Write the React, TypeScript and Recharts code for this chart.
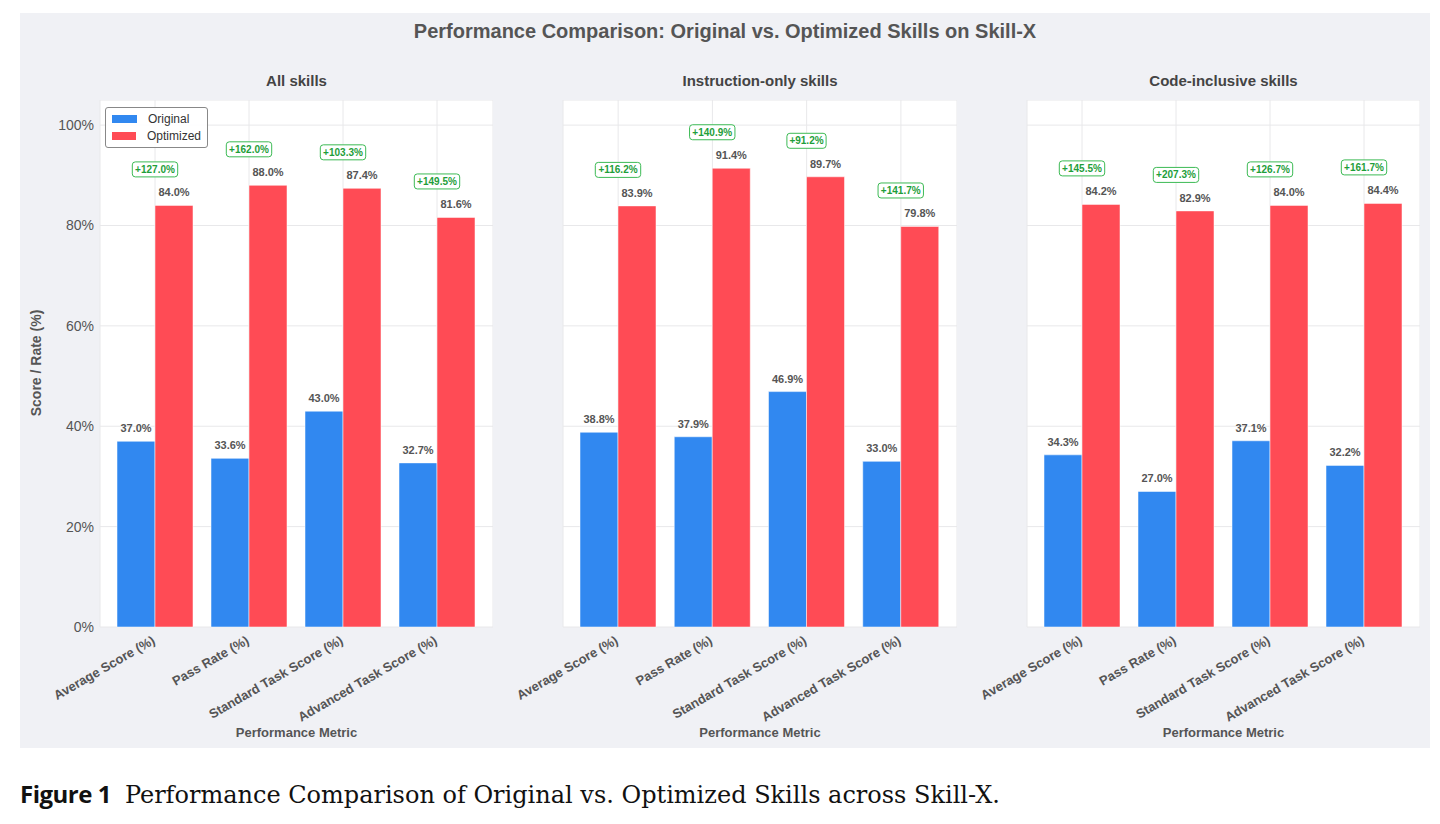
import { BarChart, Bar, XAxis, YAxis, CartesianGrid, LabelList } from 'recharts';

const metrics = ['Average Score (%)', 'Pass Rate (%)', 'Standard Task Score (%)', 'Advanced Task Score (%)'];

const allOriginal = [37.0, 33.6, 43.0, 32.7];
const allOptimized = [84.0, 88.0, 87.4, 81.6];
const allGain = [127.0, 162.0, 103.3, 149.5];

const instrOriginal = [38.8, 37.9, 46.9, 33.0];
const instrOptimized = [83.9, 91.4, 89.7, 79.8];
const instrGain = [116.2, 140.9, 91.2, 141.7];

const codeOriginal = [34.3, 27.0, 37.1, 32.2];
const codeOptimized = [84.2, 82.9, 84.0, 84.4];
const codeGain = [145.5, 207.3, 126.7, 161.7];

const yTicks = [0, 20, 40, 60, 80, 100];

const BLUE = '#3188F0';
const RED = '#FF4B55';
const FONT = '"Liberation Sans", Arial, Helvetica, sans-serif';

function buildRows(orig: number[], opt: number[], gain: number[]) {
  return metrics.map((m, i) => ({ metric: m, original: orig[i], optimized: opt[i], gain: gain[i] }));
}

// plotLeft / plotWidth are the white plot areas; every chart gets an 80px left strip
const panels = [
  { title: 'All skills', rows: buildRows(allOriginal, allOptimized, allGain), plotLeft: 100, plotWidth: 393, yAxis: true },
  { title: 'Instruction-only skills', rows: buildRows(instrOriginal, instrOptimized, instrGain), plotLeft: 563, plotWidth: 394, yAxis: false },
  { title: 'Code-inclusive skills', rows: buildRows(codeOriginal, codeOptimized, codeGain), plotLeft: 1027, plotWidth: 393, yAxis: false },
];

const XTick = (props: any) => {
  const { x, y, payload } = props;
  return (
    <g transform={`translate(${x + 1},${y + 8}) rotate(-30)`}>
      <text textAnchor="end" fontSize={13} fontWeight="bold" fill="#555" fontFamily={FONT}>
        {payload.value}
      </text>
    </g>
  );
};

const valueLabel = (props: any) => {
  const { x, y, width, value } = props;
  return (
    <text x={x + width / 2} y={y - 9} textAnchor="middle" fontSize={11} fontWeight="bold" fill="#555" fontFamily={FONT}>
      {value.toFixed(1)}%
    </text>
  );
};

const makeOptLabel = (gains: number[]) => (props: any) => {
  const { x, y, width, value, index } = props;
  const g = `+${gains[index].toFixed(1)}%`;
  const bw = g.length * 6.2 + 2;
  return (
    <g>
      <text x={x + width / 2} y={y - 9} textAnchor="middle" fontSize={11} fontWeight="bold" fill="#555" fontFamily={FONT}>
        {value.toFixed(1)}%
      </text>
      <rect x={x - bw / 2} y={y - 43.5} width={bw} height={15} rx={3} fill="#fff" stroke="#3cba54" strokeWidth={1} />
      <text x={x} y={y - 32.5} textAnchor="middle" fontSize={10} fontWeight="bold" fill="#1e9e3a" fontFamily={FONT}>
        {g}
      </text>
    </g>
  );
};

const LegendBox = () => (
  <div style={{ position: 'absolute', left: 105, top: 107, border: '1px solid #888', borderRadius: 3, background: 'rgba(255,255,255,0.9)', padding: '2px 6px 3px 6px', width: 89, fontFamily: FONT, fontSize: 12, color: '#333' }}>
    {[['Original', BLUE], ['Optimized', RED]].map(([n, c]) => (
      <div key={n} style={{ display: 'flex', alignItems: 'center', height: 17 }}>
        <span style={{ display: 'inline-block', width: 25, height: 8, background: c, marginRight: 11 }} />
        {n}
      </div>
    ))}
  </div>
);

export default function App() {
  return (
    <div style={{ position: 'absolute', left: 0, top: 0, width: 1440, height: 824, background: '#fff', fontFamily: FONT }}>
      <div style={{ position: 'absolute', left: 20, top: 13, width: 1410, height: 735, background: '#f0f1f5' }} />
      <div style={{ position: 'absolute', left: 20, top: 20, width: 1410, textAlign: 'center', fontSize: 20, fontWeight: 'bold', color: '#555' }}>
        Performance Comparison: Original vs. Optimized Skills on Skill-X
      </div>
      <div style={{ position: 'absolute', left: 36, top: 363, width: 0, height: 0 }}>
        <div style={{ position: 'absolute', transform: 'translate(-50%,-50%) rotate(-90deg)', whiteSpace: 'nowrap', fontSize: 14, fontWeight: 'bold', color: '#555' }}>
          Score / Rate (%)
        </div>
      </div>
      {panels.map((p) => (
        <div key={p.title}>
          <div style={{ position: 'absolute', left: p.plotLeft, top: 72, width: p.plotWidth, textAlign: 'center', fontSize: 15, fontWeight: 'bold', color: '#444' }}>
            {p.title}
          </div>
          <div style={{ position: 'absolute', left: p.plotLeft - 80, top: 100 }}>
            <BarChart
              width={p.plotWidth + 80}
              height={648}
              data={p.rows}
              margin={{ top: 0, right: 0, bottom: 0, left: p.yAxis ? 0 : 80 }}
              barGap={0}
              barSize={38}
            >
              <CartesianGrid fill="#fff" stroke="#e8e8ea" strokeWidth={1} />
              <XAxis
                dataKey="metric"
                interval={0}
                height={121}
                tick={<XTick />}
                tickLine={false}
                axisLine={false}
                padding={{ left: 8, right: 9 }}
                label={{ value: 'Performance Metric', position: 'insideBottom', offset: 11, style: { fontSize: 13, fontWeight: 'bold', fill: '#555', fontFamily: FONT } }}
              />
              <YAxis
                domain={[0, 105]}
                ticks={yTicks}
                interval={0}
                hide={!p.yAxis}
                width={80}
                tickFormatter={(v: number) => `${v}%`}
                tick={{ fontSize: 14, fill: '#555', fontFamily: FONT }}
                tickLine={false}
                axisLine={false}
                tickSize={0}
                tickMargin={6}
              />
              <Bar dataKey="original" name="Original" fill={BLUE} stroke="#fff" strokeOpacity={0.5} isAnimationActive={false}>
                <LabelList dataKey="original" content={valueLabel} />
              </Bar>
              <Bar dataKey="optimized" name="Optimized" fill={RED} stroke="#fff" strokeOpacity={0.5} isAnimationActive={false}>
                <LabelList dataKey="optimized" content={makeOptLabel(p.rows.map((r) => r.gain))} />
              </Bar>
            </BarChart>
          </div>
        </div>
      ))}
      <LegendBox />
      <div style={{ position: 'absolute', left: 20, top: 777, whiteSpace: 'nowrap', display: 'flex', alignItems: 'baseline' }}>
        <span style={{ fontFamily: '"Open Sans", "Noto Sans", sans-serif', fontWeight: 'bold', fontSize: 24, color: '#111', marginRight: 14, letterSpacing: -0.5 }}>Figure 1</span>
        <span style={{ fontFamily: '"DejaVu Serif", serif', fontSize: 24, color: '#111' }}>
          Performance Comparison of Original vs. Optimized Skills across Skill-X.
        </span>
      </div>
    </div>
  );
}
